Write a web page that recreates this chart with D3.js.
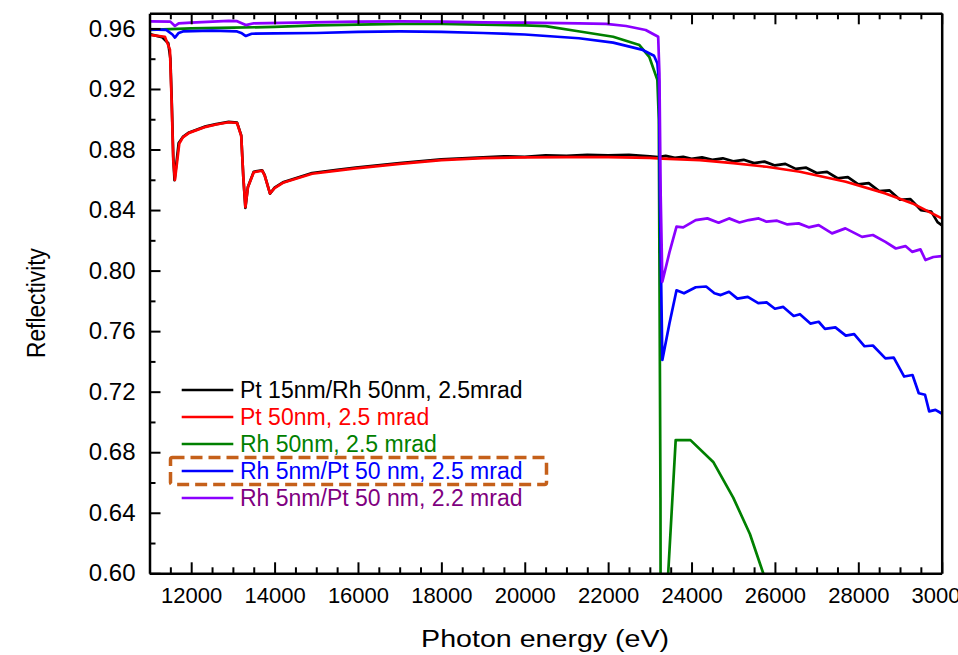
<!DOCTYPE html>
<html>
<head>
<meta charset="utf-8">
<script src="https://cdn.jsdelivr.net/npm/d3@7/dist/d3.min.js"></script>
<style>
  html, body { margin: 0; padding: 0; background: #fff; }
  svg { display: block; }
  text { font-family: "Liberation Sans", Arial, Helvetica, sans-serif; }
</style>
</head>
<body>
<svg id="chart" width="958" height="655"></svg>
<script>
// ---------------- DATA ----------------
const seriesLabels = [
  "Pt 15nm/Rh 50nm, 2.5mrad",
  "Pt 50nm, 2.5 mrad",
  "Rh 50nm, 2.5 mrad",
  "Rh 5nm/Pt 50 nm, 2.5 mrad",
  "Rh 5nm/Pt 50 nm, 2.2 mrad"
];
const lineColors = ["#000000", "#ff0000", "#008000", "#0000ff", "#8b00ff"];
const labelColors = ["#000000", "#ff0000", "#008000", "#0000ff", "#800080"];

const xTickValues = [12000, 14000, 16000, 18000, 20000, 22000, 24000, 26000, 28000, 30000];
const yTickValues = [0.60, 0.64, 0.68, 0.72, 0.76, 0.80, 0.84, 0.88, 0.92, 0.96];

// Pt 15nm / Rh 50nm, 2.5 mrad (black)
const ptRhEnergy = [11000, 11300, 11450, 11500, 11530, 11570, 11600, 11700, 11800, 11950, 12350, 12600, 12900, 13100, 13200, 13250, 13300, 13360, 13500, 13700, 13760, 13890, 14000, 14200, 14900, 15500, 15950, 17000, 18000, 19000, 19500, 20000, 20500, 21000, 21500, 22000, 22500, 23000, 23200, 23380, 23600, 23800, 24000, 24250, 24500, 24750, 25000, 25250, 25500, 25750, 26000, 26250, 26500, 26750, 27000, 27250, 27500, 27750, 28000, 28250, 28500, 28750, 29000, 29250, 29500, 29750, 29900, 30000];
const ptRhRefl = [0.9562, 0.9543, 0.9502, 0.9402, 0.9152, 0.8752, 0.8597, 0.8843, 0.8883, 0.8913, 0.8953, 0.8968, 0.8983, 0.8978, 0.8893, 0.8618, 0.8415, 0.8553, 0.8653, 0.8663, 0.8633, 0.8508, 0.8548, 0.8583, 0.8645, 0.8665, 0.868, 0.871, 0.8735, 0.8748, 0.8755, 0.8752, 0.8762, 0.8758, 0.8765, 0.8762, 0.8765, 0.8755, 0.875, 0.8758, 0.8745, 0.8752, 0.8738, 0.8748, 0.8732, 0.8742, 0.8722, 0.8732, 0.871, 0.872, 0.8695, 0.8705, 0.8672, 0.868, 0.8645, 0.8652, 0.861, 0.8618, 0.857, 0.8578, 0.8525, 0.853, 0.8468, 0.8472, 0.84, 0.839, 0.832, 0.830];

// Pt 50nm, 2.5 mrad (red)
const ptEnergy = [11000, 11370, 11490, 11530, 11570, 11610, 11715, 11800, 11950, 12350, 12600, 12900, 13100, 13200, 13250, 13300, 13360, 13500, 13700, 13760, 13890, 14000, 14200, 14900, 15500, 15950, 17000, 18000, 19000, 20000, 21000, 22000, 23000, 23300, 24200, 25000, 25800, 26600, 27700, 28650, 29300, 30000];
const ptRefl = [0.9557, 0.9545, 0.946, 0.9127, 0.873, 0.860, 0.884, 0.888, 0.891, 0.895, 0.8965, 0.898, 0.8975, 0.889, 0.862, 0.842, 0.855, 0.865, 0.866, 0.863, 0.851, 0.8545, 0.858, 0.864, 0.866, 0.8675, 0.8705, 0.873, 0.8743, 0.8748, 0.875, 0.875, 0.8745, 0.874, 0.873, 0.871, 0.8686, 0.8653, 0.8587, 0.851, 0.8444, 0.8345];

// Rh 50nm, 2.5 mrad (green)
const rhEnergy = [11000, 11500, 12000, 13000, 14000, 15000, 16000, 17000, 18000, 19000, 20000, 20500, 21320, 22120, 22750, 22990, 23180, 23215, 23255, 23265, 23420, 23620, 23975, 24520, 25000, 25400, 25720, 25800];
const rhRefl = [0.959, 0.9595, 0.960, 0.9605, 0.961, 0.962, 0.9625, 0.963, 0.963, 0.9625, 0.962, 0.9615, 0.958, 0.9545, 0.949, 0.941, 0.926, 0.900, 0.650, 0.450, 0.590, 0.688, 0.688, 0.6736, 0.650, 0.626, 0.600, 0.590];

// Rh 5nm / Pt 50nm, 2.5 mrad (blue)
const rhPt25Energy = [11000, 11400, 11550, 11610, 11700, 11800, 12500, 13100, 13200, 13310, 13450, 14000, 15000, 16000, 17000, 18000, 19000, 20000, 21300, 22120, 22830, 23100, 23180, 23220, 23240, 23300, 23470, 23640, 23820, 24100, 24350, 24550, 24700, 24900, 25100, 25350, 25600, 25800, 26000, 26200, 26450, 26600, 26850, 27050, 27200, 27450, 27700, 27900, 28150, 28350, 28650, 28850, 29100, 29300, 29450, 29600, 29700, 29850, 30000];
const rhPt25Refl = [0.9594, 0.959, 0.956, 0.954, 0.957, 0.958, 0.9585, 0.958, 0.957, 0.955, 0.9565, 0.9567, 0.957, 0.9577, 0.958, 0.9577, 0.957, 0.956, 0.9535, 0.9506, 0.9458, 0.942, 0.937, 0.925, 0.850, 0.741, 0.765, 0.787, 0.785, 0.789, 0.7895, 0.785, 0.7838, 0.786, 0.7815, 0.7826, 0.7785, 0.779, 0.7748, 0.776, 0.770, 0.7712, 0.765, 0.7662, 0.7615, 0.7625, 0.757, 0.758, 0.750, 0.7505, 0.742, 0.7425, 0.730, 0.731, 0.719, 0.718, 0.707, 0.708, 0.7056];

// Rh 5nm / Pt 50nm, 2.2 mrad (purple)
const rhPt22Energy = [11000, 11500, 11610, 11700, 12000, 12900, 13100, 13310, 13500, 14500, 16000, 17000, 18000, 19000, 20000, 21300, 21950, 22430, 22900, 23200, 23230, 23260, 23300, 23470, 23640, 23800, 24100, 24380, 24650, 24900, 25150, 25370, 25610, 25800, 26050, 26300, 26570, 26810, 27050, 27370, 27690, 28090, 28350, 28650, 28900, 29130, 29290, 29490, 29610, 29800, 30000];
const rhPt22Refl = [0.9647, 0.9645, 0.9616, 0.9634, 0.9638, 0.965, 0.9648, 0.9622, 0.9634, 0.9638, 0.9645, 0.9647, 0.9645, 0.964, 0.9638, 0.9634, 0.963, 0.9616, 0.959, 0.9545, 0.930, 0.850, 0.7926, 0.812, 0.829, 0.8285, 0.8334, 0.8345, 0.8316, 0.8345, 0.8318, 0.8334, 0.8345, 0.8323, 0.833, 0.8305, 0.8312, 0.8286, 0.830, 0.8246, 0.8279, 0.8223, 0.8235, 0.819, 0.8146, 0.8162, 0.8124, 0.814, 0.807, 0.809, 0.8096];

const seriesEnergy = [ptRhEnergy, ptEnergy, rhEnergy, rhPt25Energy, rhPt22Energy];
const seriesRefl = [ptRhRefl, ptRefl, rhRefl, rhPt25Refl, rhPt22Refl];

// ---------------- LAYOUT ----------------
const margin = { left: 149.5, right: 958 - 941.7, top: 13.3, bottom: 655 - 573.3 };
const svg = d3.select("#chart");
const W = 958, H = 655;
const x = d3.scaleLinear().domain([11000, 30000]).range([margin.left, W - margin.right]);
const y = d3.scaleLinear().domain([0.60, 0.97]).range([H - margin.bottom, margin.top]);

svg.append("defs").append("clipPath").attr("id", "plotClip")
  .append("rect")
  .attr("x", x(11000)).attr("y", y(0.97))
  .attr("width", x(30000) - x(11000)).attr("height", y(0.60) - y(0.97));

// lines
const line = d3.line().x(d => x(d[0])).y(d => y(d[1]));
const gLines = svg.append("g").attr("clip-path", "url(#plotClip)");
seriesEnergy.forEach((es, i) => {
  const pts = es.map((e, j) => [e, seriesRefl[i][j]]);
  gLines.append("path")
    .datum(pts)
    .attr("d", line)
    .attr("fill", "none")
    .attr("stroke", lineColors[i])
    .attr("stroke-width", 2.7)
    .attr("stroke-linejoin", "round");
});

// axes
const axisW = 2.5;
const minorX = d3.range(11500, 30000, 500).filter(v => v % 2000 !== 0);
const minorY = d3.range(0.62, 0.97, 0.04);

function styleAxis(g) {
  g.selectAll(".domain").attr("stroke", "#000").attr("stroke-width", axisW);
  g.selectAll(".tick line").attr("stroke", "#000").attr("stroke-width", 2);
}

// bottom major
const gBottom = svg.append("g").attr("transform", `translate(0,${y(0.60)})`)
  .call(d3.axisBottom(x).tickValues(xTickValues).tickSizeInner(-11).tickSizeOuter(0).tickPadding(14).tickFormat(d3.format("d")));
gBottom.selectAll("text").attr("font-size", 22).attr("fill", "#000");
styleAxis(gBottom);
svg.append("g").attr("transform", `translate(0,${y(0.60)})`)
  .call(d3.axisBottom(x).tickValues(minorX).tickSizeInner(-6).tickSizeOuter(0).tickFormat(""))
  .call(g => g.select(".domain").remove())
  .call(styleAxis);

// top
const gTop = svg.append("g").attr("transform", `translate(0,${y(0.97)})`)
  .call(d3.axisTop(x).tickValues(xTickValues).tickSizeInner(-11).tickSizeOuter(0).tickFormat(""));
styleAxis(gTop);
svg.append("g").attr("transform", `translate(0,${y(0.97)})`)
  .call(d3.axisTop(x).tickValues(minorX).tickSizeInner(-6).tickSizeOuter(0).tickFormat(""))
  .call(g => g.select(".domain").remove())
  .call(styleAxis);

// left
const gLeft = svg.append("g").attr("transform", `translate(${x(11000)},0)`)
  .call(d3.axisLeft(y).tickValues(yTickValues).tickSizeInner(-11).tickSizeOuter(0).tickPadding(14).tickFormat(d3.format(".2f")));
gLeft.selectAll("text").attr("font-size", 24).attr("fill", "#000");
styleAxis(gLeft);
svg.append("g").attr("transform", `translate(${x(11000)},0)`)
  .call(d3.axisLeft(y).tickValues(minorY).tickSizeInner(-6).tickSizeOuter(0).tickFormat(""))
  .call(g => g.select(".domain").remove())
  .call(styleAxis);

// right (no ticks)
const gRight = svg.append("g").attr("transform", `translate(${x(30000)},0)`)
  .call(d3.axisRight(y).tickValues([]).tickSizeOuter(0));
styleAxis(gRight);

// axis titles
svg.append("text")
  .attr("x", (x(11000) + x(30000)) / 2 - 0.5)
  .attr("y", 646.7)
  .attr("text-anchor", "middle")
  .attr("font-size", 23.5)
  .attr("textLength", 248)
  .attr("lengthAdjust", "spacingAndGlyphs")
  .attr("fill", "#000")
  .text("Photon energy (eV)");

svg.append("text")
  .attr("transform", "translate(45,303) rotate(-90)")
  .attr("text-anchor", "middle")
  .attr("font-size", 26.5)
  .attr("textLength", 110)
  .attr("lengthAdjust", "spacingAndGlyphs")
  .attr("fill", "#000")
  .text("Reflectivity");

// legend
const legendTop = 390, legendStep = 27;
const gLeg = svg.append("g");
seriesLabels.forEach((lab, i) => {
  const cy = legendTop + i * legendStep;
  gLeg.append("line")
    .attr("x1", 181.7).attr("x2", 233.3)
    .attr("y1", cy).attr("y2", cy)
    .attr("stroke", lineColors[i]).attr("stroke-width", 2.7);
  gLeg.append("text")
    .attr("x", 240).attr("y", cy + 8)
    .attr("font-size", 23)
    .attr("fill", labelColors[i])
    .text(lab);
});

// dashed highlight box around 4th legend entry
gLeg.append("rect")
  .attr("x", 170.5).attr("y", legendTop + 3 * legendStep - 13.5)
  .attr("width", 376).attr("height", 27)
  .attr("rx", 2)
  .attr("fill", "none")
  .attr("stroke", "#c5601a")
  .attr("stroke-width", 3.5)
  .attr("stroke-dasharray", "12,6");
</script>
</body>
</html>
